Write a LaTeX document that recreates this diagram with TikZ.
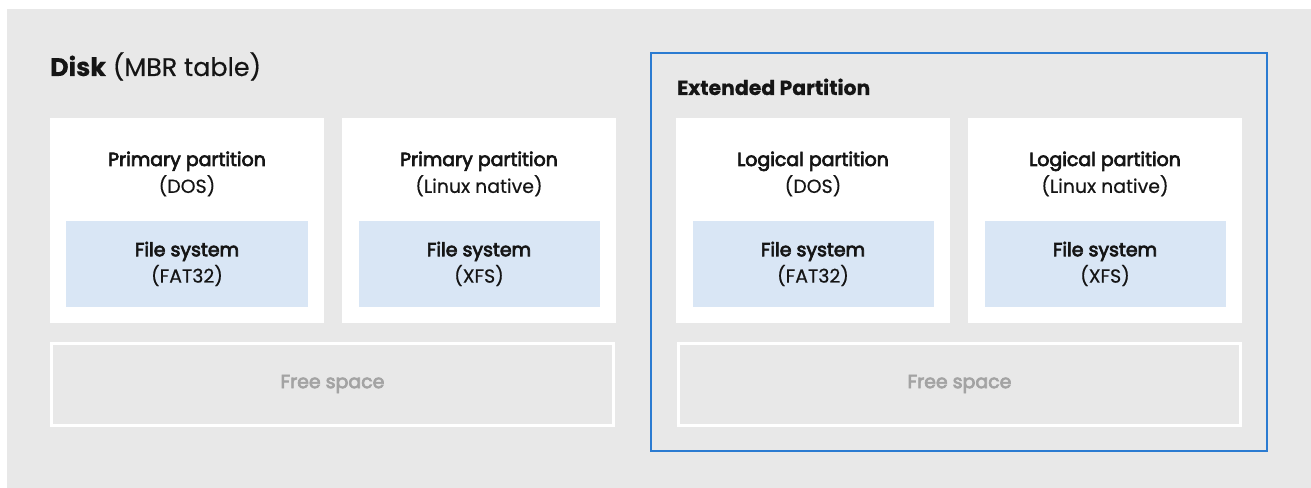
\documentclass[tikz,border=0pt]{standalone}
\usepackage{fontspec}
\setmainfont{Poppins}[FakeBold=0.4]
\newfontfamily\medfont{Poppins}[FakeBold=3.6]
\definecolor{bg}{HTML}{E8E8E8}
\definecolor{fsfill}{HTML}{D9E6F5}
\definecolor{extframe}{HTML}{2B7BD1}
\definecolor{txt}{HTML}{151515}
\definecolor{freetxt}{HTML}{A3A3A3}
\tikzset{
  partbox/.style={fill=white, draw=none, inner sep=0pt, minimum width=274bp, minimum height=205bp},
  fsbox/.style={fill=fsfill, draw=none, inner sep=0pt, minimum width=241bp, minimum height=86bp,
    align=center, text=txt, font=\fontsize{19}{26.5}\selectfont},
  freebox/.style={fill=bg, draw=white, line width=3bp, inner sep=0pt, minimum width=562bp, minimum height=82bp,
    text=freetxt, font=\fontsize{19}{26.5}\selectfont\medfont},
  plabel/.style={align=center, text=txt, inner sep=0pt, font=\fontsize{19}{27}\selectfont},
  extbox/.style={draw=extframe, line width=2bp, fill=none, inner sep=0pt, minimum width=616bp, minimum height=398bp},
}
\begin{document}
\begin{tikzpicture}[x=1bp,y=-1bp]
\useasboundingbox (0,0) rectangle (1311,488);
\fill[bg] (7,9) rectangle (1311,488);

\node[anchor=base west, inner sep=0pt, text=txt, font=\fontsize{25.5}{30}\selectfont] (disk) at (50,76) {\textbf{Disk} (MBR table)};

% primary partitions
\node[partbox] (p1) at (187,220.5) {};
\node[partbox] (p2) at (479,220.5) {};
\node[plabel] (p1t) at (187,174) {{\medfont Primary partition}\\(DOS)};
\node[plabel] (p2t) at (479,174) {{\medfont Primary partition}\\(Linux native)};
\node[fsbox] (f1) at (187,264) {{\medfont File system}\\(FAT32)};
\node[fsbox] (f2) at (479,264) {{\medfont File system}\\(XFS)};
\node[freebox] (free1) at (332.5,384) {Free space};

% extended partition
\node[extbox] (ext) at (959,252) {};
\node[anchor=base west, inner sep=0pt, text=txt, font=\fontsize{20.5}{24}\selectfont\bfseries] (extt) at (677,95) {Extended Partition};
\node[partbox] (l1) at (813,220.5) {};
\node[partbox] (l2) at (1105,220.5) {};
\node[plabel] (l1t) at (813,174) {{\medfont Logical partition}\\(DOS)};
\node[plabel] (l2t) at (1105,174) {{\medfont Logical partition}\\(Linux native)};
\node[fsbox] (f3) at (813,264) {{\medfont File system}\\(FAT32)};
\node[fsbox] (f4) at (1105,264) {{\medfont File system}\\(XFS)};
\node[freebox] (free2) at (959.5,384) {Free space};
\end{tikzpicture}
\end{document}
